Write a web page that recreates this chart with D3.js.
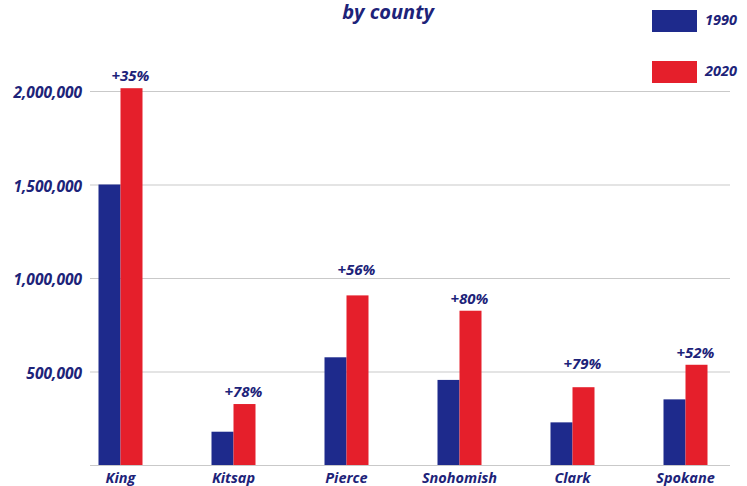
<!DOCTYPE html>
<html>
<head>
<meta charset="utf-8">
<script src="https://cdn.jsdelivr.net/npm/d3@7"></script>
<style>
	body { margin: 0; background: #fff; }
	text { font-family: "Open Sans", sans-serif; font-weight: 700; font-style: italic; fill: #1d2379; }
	.grid line { stroke: #c9c9c9; stroke-width: 1; }
</style>
</head>
<body>
<div id="chart"></div>
<script>
// values
var counties = ["King", "Kitsap", "Pierce", "Snohomish", "Clark", "Spokane"];
var series = ["1990", "2020"];
var pop1990 = [1500000, 178000, 576000, 455000, 228000, 351000];
var pop2020 = [2015000, 326000, 907000, 825000, 416000, 536000];
var growth = ["+35%", "+78%", "+56%", "+80%", "+79%", "+52%"];
var yTicks = [0, 500000, 1000000, 1500000, 2000000];
var colors = ["#1e2a8c", "#e51f2b"];

var w = 747, h = 486;
var plot = {left: 90, right: 730, bottom: 465, top: 91};
var barW = 22;

var svg = d3.select("#chart").append("svg")
	.attr("width", w)
	.attr("height", h);

var x = d3.scaleBand()
	.domain(counties)
	.range([64, 742]);

var xs = d3.scaleBand()
	.domain(series)
	.range([0, barW * 2]);

var y = d3.scaleLinear()
	.domain([0, 2000000])
	.range([plot.bottom, plot.top]);

var yAxis = d3.axisLeft()
	.scale(y)
	.tickValues(yTicks)
	.tickSizeInner(-(plot.right - plot.left))
	.tickSizeOuter(0)
	.tickPadding(8)
	.tickFormat(function(d) { return d ? d3.format(",")(d) : ""; });

//Y axis with gridlines
var axisY = svg.append("g")
	.attr("class", "grid")
	.attr("transform", "translate(" + plot.left + ",0)")
	.call(yAxis);

axisY.select(".domain").remove();
axisY.selectAll("text")
	.attr("dy", "0.45em")
	.style("font-size", "15.5px")
	.style("font-family", null);

//Bars
var rows = counties.map(function(c, i) {
	return {county: c, values: [pop1990[i], pop2020[i]], label: growth[i]};
});

var groups = svg.selectAll(".county")
	.data(rows)
  .enter().append("g")
	.attr("class", "county")
	.attr("transform", function(d) {
		return "translate(" + (x(d.county) + x.bandwidth() / 2 - barW) + ",0)";
	});

groups.selectAll("rect")
	.data(function(d) { return d.values.map(function(v, j) { return {s: series[j], v: v, c: colors[j]}; }); })
  .enter().append("rect")
	.attr("x", function(d) { return xs(d.s); })
	.attr("width", xs.bandwidth())
	.attr("y", function(d) { return y(d.v); })
	.attr("height", function(d) { return plot.bottom - y(d.v); })
	.attr("fill", function(d) { return d.c; });

//Growth labels, lifted above a gridline when they would sit on it
groups.append("text")
	.attr("x", xs("2020") + xs.bandwidth() / 2 - 1)
	.attr("y", function(d) {
		var base = y(d.values[1]) - 7;
		var topEdge = base - 11;
		yTicks.forEach(function(t) {
			var gy = y(t);
			if(gy > topEdge && gy < base + 2) base = gy - 3;
		});
		return base;
	})
	.style("text-anchor", "middle")
	.style("font-size", "15px")
	.text(function(d) { return d.label; });

//County labels
svg.selectAll(".countyLabel")
	.data(counties)
  .enter().append("text")
	.attr("class", "countyLabel")
	.attr("x", function(d) { return x(d) + x.bandwidth() / 2; })
	.attr("y", 483)
	.style("text-anchor", "middle")
	.style("font-size", "14.5px")
	.text(function(d) { return d; });

//Title (only the subtitle line is on the page)
svg.append("text")
	.attr("x", 388)
	.attr("y", 19)
	.style("text-anchor", "middle")
	.style("font-size", "20px")
	.text("by county");

//Legend
var legend = svg.selectAll(".legend")
	.data(series)
  .enter().append("g")
	.attr("class", "legend")
	.attr("transform", function(d, i) { return "translate(652," + (10 + i * 51) + ")"; });

legend.append("rect")
	.attr("width", 45)
	.attr("height", 22)
	.attr("fill", function(d, i) { return colors[i]; });

legend.append("text")
	.attr("x", 53)
	.attr("y", 15)
	.style("font-size", "14.5px")
	.text(function(d) { return d; });
</script>
</body>
</html>
